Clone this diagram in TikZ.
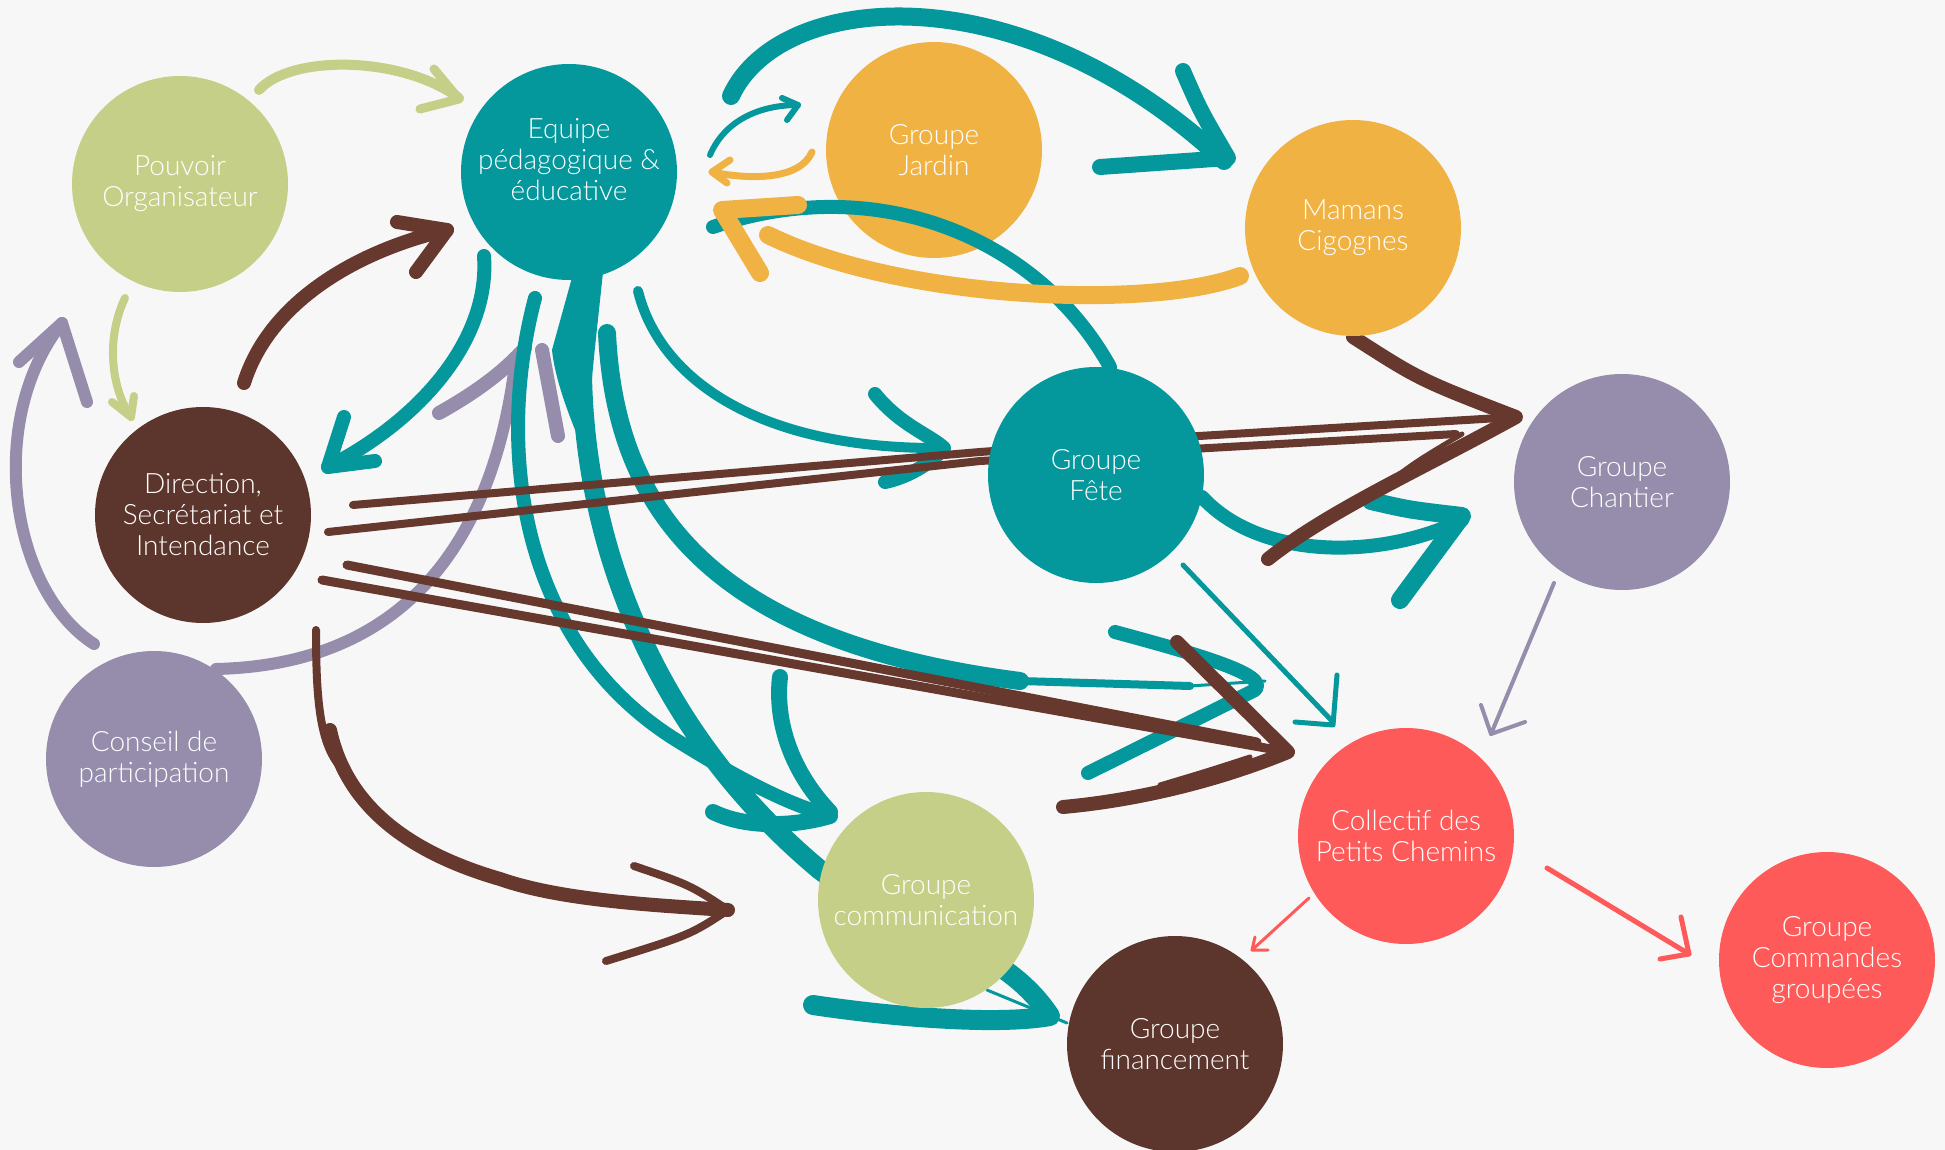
\documentclass[tikz,border=0pt]{standalone}
\usepackage{fontspec}
\IfFontExistsTF{Lato Light}{\setmainfont{Lato Light}}{\setmainfont{Carlito}}
\definecolor{cbg}{HTML}{F7F7F7}
\definecolor{cgreen}{HTML}{C6CF88}
\definecolor{cteal}{HTML}{04989C}
\definecolor{corange}{HTML}{F0B242}
\definecolor{cbrown}{HTML}{5C352C}
\definecolor{cabrown}{HTML}{66382E}
\definecolor{cpurple}{HTML}{958DAB}
\definecolor{cred}{HTML}{FF5A5A}
\begin{document}
\begin{tikzpicture}[x=0.5pt,y=-0.5pt,line cap=round,line join=round,
  bub/.style={circle,minimum size=108pt,inner sep=0pt,text=white,align=center,
    font=\fontsize{14}{15.5}\selectfont},
  lbl/.style={text=white,align=center,inner sep=0pt,font=\fontsize{14}{15.5}\selectfont},
  tl/.style={draw=cteal},
  br/.style={draw=cabrown},
  pu/.style={draw=cpurple},
  gr/.style={draw=cgreen},
  og/.style={draw=corange},
  rd/.style={draw=cred}]
\fill[cbg] (0,0) rectangle (1945,1150);
\useasboundingbox (0,0) rectangle (1945,1150);

% circle drawn below the strokes
\node[bub,fill=corange] (gj) at (934,150) {Groupe\\Jardin};

% purple strokes
\draw[pu,line width=6pt] (94,644) .. controls (10,590) and (-15,420) .. (62,323);
\draw[pu,line width=6pt] (19,362) -- (62,323) -- (87,402);
\draw[pu,line width=6pt] (216,669) .. controls (390,665) and (490,560) .. (515,365);
\draw[pu,line width=7pt] (439,413) .. controls (480,390) and (505,370) .. (525,348);
\draw[pu,line width=7pt] (542,350) -- (558,436);

% green strokes
\draw[gr,line width=5pt] (259,90) .. controls (290,55) and (400,55) .. (459,98);
\draw[gr,line width=4.5pt] (434,69) -- (459,99) -- (420,109);
\draw[gr,line width=4pt] (125,298) .. controls (105,340) and (112,390) .. (131,417);
\draw[gr,line width=4pt] (112,402) -- (131,417) -- (134,396);

% teal strokes
\draw[tl,line width=7pt] (484,256) .. controls (490,340) and (420,420) .. (328,467);
\draw[tl,line width=7pt] (344,417) -- (328,467) -- (375,461);
\fill[cteal] (573,274) -- (603,272) .. controls (595,350) and (588,400) .. (588,460)
  .. controls (570,420) and (555,380) .. (552,350) -- cycle;
\draw[tl,line width=10pt] (587,278) .. controls (560,500) and (640,720) .. (820,870)
  .. controls (900,930) and (1000,940) .. (1050,1016)
  .. controls (1000,1025) and (900,1018) .. (813,1005);
\draw[tl,line width=1.5pt] (987,990) -- (1067,1023);
\draw[tl,line width=7pt] (535,298) .. controls (495,450) and (520,640) .. (673,738)
  .. controls (740,780) and (790,805) .. (828,815);
\draw[tl,line width=8pt] (780,677) .. controls (775,720) and (790,770) .. (830,812);
\draw[tl,line width=8pt] (713,812) .. controls (750,830) and (800,825) .. (830,816);
\draw[tl,line width=9pt] (607,333) .. controls (615,500) and (700,640) .. (1020,681);
\draw[tl,line width=4pt] (1020,681) -- (1190,686);
\draw[tl,line width=1.5pt] (1190,686) -- (1265,681);
\draw[tl,line width=7pt] (1115,632) .. controls (1200,655) and (1270,675) .. (1255,690) -- (1088,773);
\draw[tl,line width=5pt] (638,291) .. controls (660,380) and (760,450) .. (944,448);
\draw[tl,line width=7pt] (875,394) .. controls (900,425) and (930,435) .. (944,448)
  .. controls (930,465) and (905,478) .. (885,482);
\draw[tl,line width=9pt] (731,96) .. controls (780,-10) and (1020,-30) .. (1224,161);
\draw[tl,line width=8pt] (1183,71) .. controls (1200,110) .. (1228,158) -- (1100,167);
\draw[tl,line width=3pt] (710,155) .. controls (725,120) and (760,105) .. (798,105);
\draw[tl,line width=3pt] (782,98) -- (798,105) -- (787,120);
\draw[tl,line width=7pt] (1110,367) .. controls (1040,240) and (880,170) .. (713,227);
\draw[tl,line width=7pt] (1202,497) .. controls (1260,560) and (1380,560) .. (1462,520);
\draw[tl,line width=9pt] (1371,501) .. controls (1410,510) .. (1462,516) -- (1400,600);
\draw[tl,line width=2.5pt] (1183,565) -- (1333,722);
\draw[tl,line width=2.5pt] (1295,722) -- (1333,725) -- (1337,675);

% brown strokes
\draw[br,line width=7pt] (244,383) .. controls (270,300) and (360,250) .. (447,230);
\draw[br,line width=7pt] (397,222) -- (447,230) -- (416,272);
\draw[br,line width=4pt] (353,505) -- (980,452) -- (1199,436) -- (1516,417);
\draw[br,line width=4pt] (328,532) -- (980,461) -- (1456,434);
\draw[br,line width=7pt] (1353,337) .. controls (1420,380) .. (1516,417)
  .. controls (1420,470) and (1330,510) .. (1268,559);
\draw[br,line width=2.5pt] (1462,434) .. controls (1410,465) .. (1368,500);
\draw[br,line width=4.5pt] (347,565) -- (1257,742);
\draw[br,line width=4.5pt] (322,580) -- (1288,752);
\draw[br,line width=7pt] (1177,642) -- (1288,752) .. controls (1220,780) and (1140,800) .. (1063,807);
\draw[br,line width=2.5pt] (1250,757) .. controls (1210,770) .. (1160,785);
\draw[br,line width=4pt] (316,630) .. controls (316,700) and (320,740) .. (338,764);
\draw[br,line width=7pt] (330,730) .. controls (345,800) and (400,850) .. (500,879)
  .. controls (560,900) and (650,905) .. (728,910);
\draw[br,line width=4pt] (634,866) .. controls (690,885) .. (728,910) .. controls (690,935) .. (606,961);

% orange strokes
\draw[og,line width=3.5pt] (812,152) .. controls (800,180) and (750,180) .. (712,172);
\draw[og,line width=3.5pt] (730,160) -- (712,172) -- (727,183);
\draw[og,line width=9pt] (1240,276) .. controls (1150,310) and (900,300) .. (768,235);
\draw[og,line width=9pt] (798,205) -- (722,210) -- (760,273);

% thin arrows
\draw[pu,line width=2pt] (1554,583) -- (1491,734);
\draw[pu,line width=2pt] (1481,705) -- (1491,734) -- (1525,722);
\draw[rd,line width=1.5pt] (1309,898) -- (1252,950);
\draw[rd,line width=1.5pt] (1255,937) -- (1252,950) -- (1268,950);
\draw[rd,line width=2.5pt] (1547,868) .. controls (1600,900) .. (1689,954);
\draw[rd,line width=2.5pt] (1681,917) -- (1689,954) -- (1660,959);

% circles
\node[bub,fill=cgreen] (po) at (180,184) {Pouvoir\\Organisateur};
\node[bub,fill=cteal] (eq) at (569,172) {};
\node[lbl] at ([yshift=6pt]eq.center) {Equipe\\pédagogique \&\\éducative};
\node[bub,fill=corange] (mc) at (1353,228) {Mamans\\Cigognes};
\node[bub,fill=cbrown] (di) at (203,515) {Direction,\\Secrétariat et\\Intendance};
\node[bub,fill=cteal] (gf) at (1096,475) {Groupe\\Fête};
\node[bub,fill=cpurple] (gc) at (1622,482) {Groupe\\Chantier};
\node[bub,fill=cpurple] (cp) at (154,759) {Conseil de\\participation};
\node[bub,fill=cred] (co) at (1406,836) {Collectif des\\Petits Chemins};
\node[bub,fill=cgreen] (gm) at (926,900) {Groupe\\communication};
\node[bub,fill=cbrown] (fi) at (1175,1044) {Groupe\\financement};
\node[bub,fill=cred] (cg) at (1827,960) {Groupe\\Commandes\\groupées};
\end{tikzpicture}
\end{document}
